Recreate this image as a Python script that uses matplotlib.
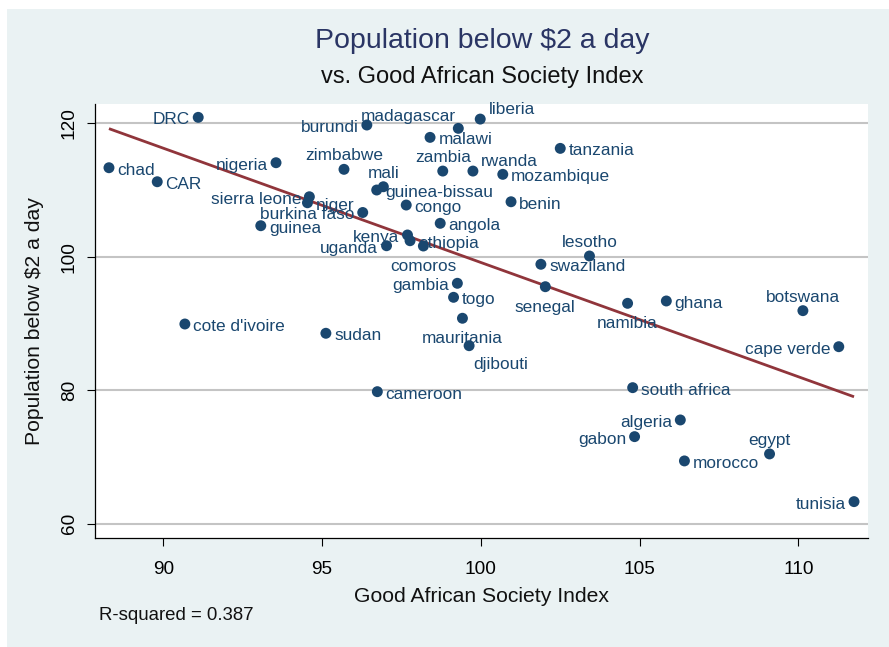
import numpy as np
import matplotlib
matplotlib.use("Agg")
import matplotlib.pyplot as plt
from matplotlib.patches import Rectangle

plt.rcParams["font.family"] = ["Liberation Sans", "DejaVu Sans"]

# Country scores
countries = [
    "DRC", "chad", "CAR", "nigeria", "zimbabwe", "burundi", "madagascar",
    "liberia", "malawi", "tanzania", "zambia", "rwanda", "mozambique",
    "mali", "guinea-bissau", "congo", "benin", "angola", "burkina faso",
    "sierra leone", "niger", "guinea", "uganda", "kenya", "ethiopia",
    "comoros", "lesotho", "swaziland", "senegal", "gambia", "togo",
    "mauritania", "djibouti", "sudan", "cameroon", "namibia", "ghana",
    "botswana", "cape verde", "south africa", "algeria", "gabon", "egypt",
    "morocco", "tunisia", "cote d'ivoire",
]
gasi = [
    91.10, 88.29, 89.81, 93.55, 95.69, 96.41, 99.29,
    99.98, 98.40, 102.50, 98.80, 99.75, 100.69,
    96.93, 96.72, 97.65, 100.95, 98.72, 96.28,
    94.60, 94.54, 93.07, 97.03, 97.69, 97.77,
    98.19, 103.42, 101.89, 102.03, 99.26, 99.14,
    99.42, 99.63, 95.12, 96.74, 104.62, 105.84,
    110.14, 111.27, 104.78, 106.28, 104.84, 109.09,
    106.41, 111.75, 90.68,
]
pop2 = [
    120.9, 113.35, 111.25, 114.10, 113.11, 119.75, 119.25,
    120.64, 117.90, 116.25, 112.85, 112.85, 112.36,
    110.50, 110.01, 107.76, 108.25, 105.02, 106.64,
    109.00, 108.10, 104.66, 101.66, 103.27, 102.41,
    101.62, 100.12, 98.88, 95.52, 96.03, 93.93,
    90.79, 86.68, 88.54, 79.79, 93.03, 93.38,
    91.93, 86.53, 80.39, 75.55, 73.05, 70.46,
    69.41, 63.31, 89.93,
]
r_squared_text = "R-squared = 0.387"
x_ticks = [90, 95, 100, 105, 110]
y_ticks = [60, 80, 100, 120]

# Marker-label placement (clock positions)
label_clock = {
    "DRC": 9, "chad": 3, "CAR": 3, "nigeria": 9, "zimbabwe": 12,
    "burundi": 9, "madagascar": 11, "liberia": 2, "malawi": 3,
    "tanzania": 3, "zambia": 12, "rwanda": 2, "mozambique": 3,
    "mali": 12, "guinea-bissau": 3, "congo": 3, "benin": 3, "angola": 3,
    "burkina faso": 9, "sierra leone": 9, "niger": 3, "guinea": 3,
    "uganda": 9, "kenya": 9, "ethiopia": 3, "comoros": 6, "lesotho": 12,
    "swaziland": 3, "senegal": 6, "gambia": 9, "togo": 3,
    "mauritania": 6, "djibouti": 5, "sudan": 3, "cameroon": 3,
    "namibia": 6, "ghana": 3, "botswana": 12, "cape verde": 9,
    "south africa": 3, "algeria": 9, "gabon": 9, "egypt": 12,
    "morocco": 3, "tunisia": 9, "cote d'ivoire": 3,
}
clock_style = {
    3: ((6, -5), "left"),
    9: ((-6, -5), "right"),
    12: ((0, 6.5), "center"),
    6: ((0, -18), "center"),
    11: ((-2, 5.3), "right"),
    2: ((6, 3.3), "left"),
    5: ((3, -17), "left"),
}

navy = "#1A476F"
W, H = 889, 647
fig = plt.figure(figsize=(W / 100, H / 100), dpi=100)
fig.patch.set_facecolor("white")
fig.patches.append(Rectangle((7 / W, 0), 1 - 7 / W, 1 - 9 / H,
                             transform=fig.transFigure,
                             facecolor="#EAF2F3", edgecolor="none", zorder=-5))

ax = fig.add_axes([95 / W, 1 - 538 / H, (868 - 95) / W, (538 - 104) / H])
ax.set_zorder(2)
ax.set_facecolor("white")
ax.set_xlim(87.85, 112.19)
ax.set_ylim(57.86, 122.9)

for yv in y_ticks:
    ax.axhline(yv, color="#C4C4C4", lw=1.5, zorder=1)

x = np.array(gasi)
y = np.array(pop2)
slope, intercept = np.polyfit(x, y, 1)
xf = np.array([x.min(), x.max()])
ax.plot(xf, intercept + slope * xf, color="#90353B", lw=2.0, zorder=2,
        solid_capstyle="butt")

ax.scatter(x, y, s=62, color=navy, edgecolors="none", zorder=3)
for name, xv, yv in zip(countries, gasi, pop2):
    offset, ha = clock_style[label_clock[name]]
    ax.annotate(name, (xv, yv), xytext=offset, textcoords="offset points",
                ha=ha, va="baseline", fontsize=12.4, color=navy, zorder=4)

ax.set_xticks(x_ticks)
ax.set_yticks(y_ticks)
ax.tick_params(axis="both", direction="out", length=5.5, width=0.8,
               labelsize=13.7, colors="black")
ax.tick_params(axis="x", pad=11)
ax.tick_params(axis="y", pad=7)
for lbl in ax.get_yticklabels():
    lbl.set_rotation(90)
    lbl.set_va("center")

for side in ("top", "right"):
    ax.spines[side].set_visible(False)
for side in ("left", "bottom"):
    ax.spines[side].set_color("black")
    ax.spines[side].set_linewidth(0.9)

ax.set_xlabel("Good African Society Index", fontsize=15.2, color="#111111")
ax.xaxis.set_label_coords(0.5, (538 - 596) / 434)
ax.xaxis.label.set_va("center")
ax.set_ylabel("Population below $2 a day", fontsize=15.2, color="#111111")
ax.yaxis.set_label_coords((35 - 95) / 773, 0.5)
ax.yaxis.label.set_va("center")

fig.text(482 / W, 1 - 40.5 / H, "Population below $2 a day", fontsize=20.5,
         color="#2A3564", ha="center", va="center")
fig.text(482 / W, 1 - 76.5 / H, "vs. Good African Society Index",
         fontsize=17, color="#111111", ha="center", va="center")
fig.text(99 / W, 1 - 615 / H, r_squared_text, fontsize=13.4,
         color="#111111", ha="left", va="center")

fig.savefig("out.png", dpi=100, facecolor=fig.get_facecolor())
